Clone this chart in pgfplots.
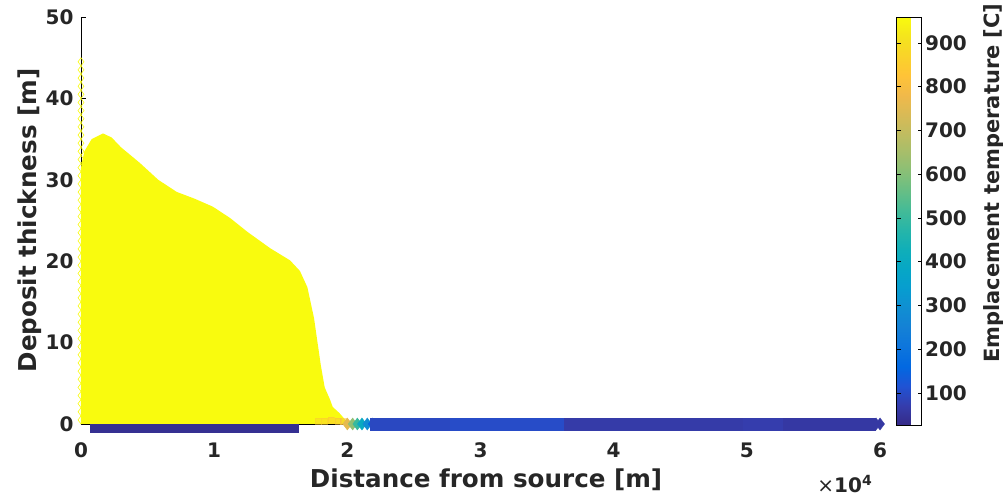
\documentclass[border=0pt]{standalone}
\usepackage{fontspec}
\setmainfont{DejaVu Sans}
\usepackage{pgfplots}
\pgfplotsset{compat=1.18}
\definecolor{txt}{RGB}{38,38,38}
\definecolor{pyel}{RGB}{249,251,14}
\pgfplotsset{colormap={parula}{
rgb=(0.2081,0.1663,0.5292) rgb=(0.2081,0.2386,0.6771) rgb=(0.1253,0.3242,0.8303)
rgb=(0.0060,0.4086,0.8828) rgb=(0.0498,0.4586,0.8641) rgb=(0.0779,0.5040,0.8384)
rgb=(0.0641,0.5570,0.8240) rgb=(0.0265,0.6137,0.8135) rgb=(0.0228,0.6535,0.7768)
rgb=(0.0590,0.6838,0.7254) rgb=(0.1453,0.7098,0.6646) rgb=(0.2586,0.7317,0.5954)
rgb=(0.3953,0.7459,0.5244) rgb=(0.5300,0.7491,0.4661) rgb=(0.6473,0.7456,0.4188)
rgb=(0.7525,0.7384,0.3768) rgb=(0.8507,0.7299,0.3360) rgb=(0.9450,0.7261,0.2886)
rgb=(0.9990,0.7653,0.2164) rgb=(0.9789,0.8271,0.1633) rgb=(0.9589,0.8949,0.1132)
rgb=(0.9763,0.9831,0.0538)}}
\begin{document}
\begin{tikzpicture}
\path[use as bounding box] (-81pt,-73pt) rectangle (922pt,424pt);
\begin{axis}[
  at={(0pt,0pt)}, anchor=south west,
  scale only axis, width=799pt, height=407pt,
  xmin=0, xmax=60000, ymin=0, ymax=50,
  clip=false,
  axis x line*=bottom, axis y line*=left,
  axis line style={-, black, line width=0.5pt},
  tick align=inside, major tick length=5pt,
  tick style={black, line width=0.5pt},
  xtick={0,10000,20000,30000,40000,50000,60000},
  xticklabels={0,1,2,3,4,5,6},
  ytick={0,10,20,30,40,50},
  scaled x ticks=false,
  /pgf/number format/assume math mode=true,
  ticklabel style={font=\fontsize{20}{24}\selectfont\bfseries, text=txt},
  xticklabel style={yshift=-15pt},
  yticklabel style={xshift=-4pt},
  xlabel={Distance from source [m]},
  ylabel={Deposit thickness [m]},
  label style={font=\fontsize{24.6}{29}\selectfont\bfseries, text=txt},
  xlabel style={at={(axis description cs:0.507,-0.157)}, anchor=base},
  ylabel style={at={(axis description cs:-0.0638,0.5)}, anchor=center},
  colormap name=parula,
  point meta min=27, point meta max=959,
  colorbar,
  colorbar style={
    at={(parent axis.north east)}, anchor=north west, xshift=8pt,
    scale only axis, width=25pt, height=408pt,
    ytick={100,200,300,400,500,600,700,800,900},
    tick align=inside, major tick length=4pt,
    /pgf/number format/assume math mode=true,
    yticklabel style={font=\fontsize{20}{24}\selectfont\bfseries, text=txt},
    ylabel={Emplacement temperature [C]},
    ylabel style={font=\fontsize{21}{25}\selectfont\bfseries, text=txt,
      at={(axis description cs:3.88,0.593)}, anchor=center},
  },
]
% hot deposit (yellow)
\addplot[draw=none, fill=pyel] coordinates {
(0,0) (0,31.5) (250,33.5) (800,35.0) (1650,35.7) (2300,35.2) (3000,34.0)
(4400,32.1) (5800,30.0) (7200,28.5) (8500,27.7) (9900,26.7) (11200,25.3)
(12500,23.6) (14200,21.6) (15700,20.1) (16440,18.8) (17000,16.8) (17500,13.0)
(18000,7.3) (18300,4.5) (18700,3.0) (18900,2.1) (19400,1.35) (19800,0.6)
(20100,0.1) (20100,0)} \closedcycle;
% cold deposit below the hot one (only its lower half shows)
\addplot[scatter, only marks, mark=square*, mark size=4pt, point meta=explicit,
  scatter/use mapped color={draw=mapped color, fill=mapped color}]
  table[x=x, y=y, meta=t] {
x y t
1000 -0.55 40
1500 -0.55 40
2000 -0.55 40
2500 -0.55 40
3000 -0.55 40
3500 -0.55 40
4000 -0.55 40
4500 -0.55 40
5000 -0.55 40
5500 -0.55 40
6000 -0.55 40
6500 -0.55 40
7000 -0.55 40
7500 -0.55 40
8000 -0.55 40
8500 -0.55 40
9000 -0.55 40
9500 -0.55 40
10000 -0.55 40
10500 -0.55 40
11000 -0.55 40
11500 -0.55 40
12000 -0.55 40
12500 -0.55 40
13000 -0.55 40
13500 -0.55 40
14000 -0.55 40
14500 -0.55 40
15000 -0.55 40
15500 -0.55 40
16000 -0.55 40
};
\addplot[only marks, mark=diamond, mark size=4pt, color=pyel, line width=0.6pt] coordinates {
(0,0.5) (0,1.5) (0,2.5) (0,3.5) (0,4.5) (0,5.5) (0,6.5) (0,7.5) (0,8.5) (0,9.5)
(0,10.5) (0,11.5) (0,12.5) (0,13.5) (0,14.5) (0,15.5) (0,16.5) (0,17.5) (0,18.5) (0,19.5)
(0,20.5) (0,21.5) (0,22.5) (0,23.5) (0,24.5) (0,25.5) (0,26.5) (0,27.5) (0,28.5) (0,29.5)
(0,30.5) (0,31.5) (0,32.5) (0,33.5) (0,34.5) (0,35.5) (0,36.5) (0,37.5) (0,38.5) (0,39.5)
(0,40.5) (0,41.5) (0,42.5) (0,43.5) (0,44.5)};
% cooling front
\addplot[scatter, only marks, mark=square*, mark size=3pt, point meta=explicit, opacity=0.5,
  scatter/use mapped color={draw=mapped color, fill=mapped color}]
  table[x=x, y=y, meta=t] {
x y t
17800 0.4 870
18300 0.4 850
18800 0.5 830
19300 0.4 810
19700 0.3 800
};
\addplot[scatter, only marks, mark=diamond*, mark size=6pt, point meta=explicit,
  scatter/use mapped color={draw=mapped color, fill=mapped color}]
  table[x=x, y=y, meta=t] {
x y t
20000 0 760
20400 0 620
20750 0 500
21100 0 400
21500 0 290
21900 0 170
};
% cold distal deposit
\addplot[scatter, only marks, mark=square*, mark size=6pt, point meta=explicit,
  scatter/use mapped color={draw=mapped color, fill=mapped color}]
  table[x=x, y=y, meta=t] {
x y t
22200 0 95
22700 0 95
23200 0 95
23700 0 95
24200 0 95
24700 0 95
25200 0 95
25700 0 95
26200 0 95
26700 0 95
27200 0 95
27700 0 95
28200 0 102
28700 0 102
29200 0 102
29700 0 102
30200 0 102
30700 0 102
31200 0 102
31700 0 102
32200 0 102
32700 0 102
33200 0 102
33700 0 102
34200 0 102
34700 0 102
35200 0 102
35700 0 102
36200 0 102
36700 0 66
37200 0 66
37700 0 66
38200 0 66
38700 0 66
39200 0 66
39700 0 66
40200 0 66
40700 0 66
41200 0 66
41700 0 66
42200 0 66
42700 0 66
43200 0 66
43700 0 66
44200 0 66
44700 0 66
45200 0 66
45700 0 66
46200 0 66
46700 0 66
47200 0 66
47700 0 66
48200 0 66
48700 0 66
49200 0 66
49700 0 66
50200 0 72
50700 0 72
51200 0 72
51700 0 72
52200 0 72
52700 0 72
53200 0 60
53700 0 60
54200 0 60
54700 0 60
55200 0 60
55700 0 60
56200 0 60
56700 0 60
57200 0 60
57700 0 60
58200 0 60
58700 0 60
59200 0 60
};
\addplot[scatter, only marks, mark=diamond*, mark size=6pt, point meta=explicit,
  scatter/use mapped color={draw=mapped color, fill=mapped color}]
  table[x=x, y=y, meta=t] {
x y t
59700 0 60
60000 0 60
};
\node[font=\fontsize{20}{24}\selectfont\bfseries, text=txt, anchor=base]
  at (axis description cs:0.956,-0.1695) {{\mdseries ×}10\textsuperscript{4}};
\end{axis}
\end{tikzpicture}
\end{document}
